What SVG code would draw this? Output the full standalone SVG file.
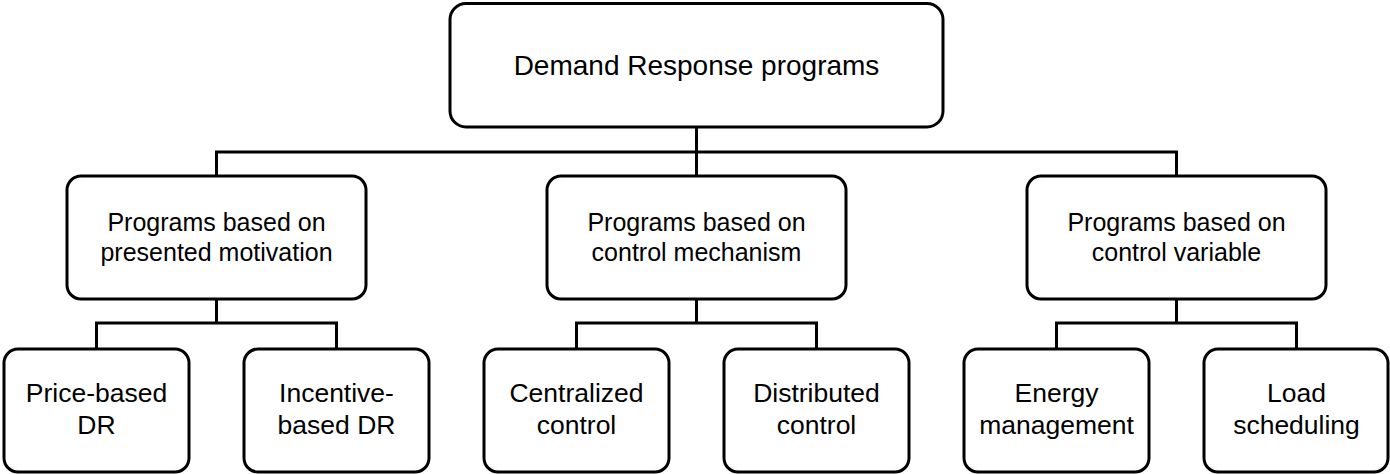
<svg xmlns="http://www.w3.org/2000/svg" width="1390" height="474" viewBox="0 0 1390 474">
<style>
.box{fill:#fff;stroke:#000;stroke-width:3}
.t{font-family:"Liberation Sans",Arial,sans-serif;font-size:25px;fill:#000;text-anchor:middle}
.top{font-size:28px}
.l3{font-size:26.5px}
.conn line,.conn polyline{stroke:#000;stroke-width:3;fill:none}
</style>
<rect width="1390" height="474" fill="#fff"/>
<g class="conn" id="connectors">
<line x1="696.5" y1="127" x2="696.5" y2="152"/>
<polyline points="216.5,176 216.5,152 1176.5,152 1176.5,176"/>
<line x1="696.5" y1="152" x2="696.5" y2="176"/>
<line x1="216.5" y1="299" x2="216.5" y2="323"/>
<polyline points="96.5,349 96.5,323 336.5,323 336.5,349"/>
<line x1="696.5" y1="299" x2="696.5" y2="323"/>
<polyline points="576.5,349 576.5,323 816.5,323 816.5,349"/>
<line x1="1176.5" y1="299" x2="1176.5" y2="323"/>
<polyline points="1056.5,349 1056.5,323 1296.5,323 1296.5,349"/>
</g>
<g id="root"><rect class="box" x="450" y="3.5" width="493" height="123.5" rx="16"/><text class="t top" x="696.5" y="75">Demand Response programs</text></g>
<g id="motivation"><rect class="box" x="67" y="176" width="299" height="123" rx="14"/><text class="t" x="216.5" y="231">Programs based on</text><text class="t" x="216.5" y="261">presented motivation</text></g>
<g id="mechanism"><rect class="box" x="547" y="176" width="299" height="123" rx="14"/><text class="t" x="696.5" y="231">Programs based on</text><text class="t" x="696.5" y="261">control mechanism</text></g>
<g id="variable"><rect class="box" x="1027" y="176" width="299" height="123" rx="14"/><text class="t" x="1176.5" y="231">Programs based on</text><text class="t" x="1176.5" y="261">control variable</text></g>
<g id="price"><rect class="box" x="4" y="349" width="185" height="123" rx="14"/><text class="t l3" x="96.5" y="402">Price-based</text><text class="t l3" x="96.5" y="434">DR</text></g>
<g id="incentive"><rect class="box" x="244" y="349" width="185" height="123" rx="14"/><text class="t l3" x="336.5" y="402">Incentive-</text><text class="t l3" x="336.5" y="434">based DR</text></g>
<g id="centralized"><rect class="box" x="484" y="349" width="185" height="123" rx="14"/><text class="t l3" x="576.5" y="402">Centralized</text><text class="t l3" x="576.5" y="434">control</text></g>
<g id="distributed"><rect class="box" x="724" y="349" width="185" height="123" rx="14"/><text class="t l3" x="816.5" y="402">Distributed</text><text class="t l3" x="816.5" y="434">control</text></g>
<g id="energy"><rect class="box" x="964" y="349" width="185" height="123" rx="14"/><text class="t l3" x="1056.5" y="402">Energy</text><text class="t l3" x="1056.5" y="434">management</text></g>
<g id="load"><rect class="box" x="1204" y="349" width="184" height="123" rx="14"/><text class="t l3" x="1296.5" y="402">Load</text><text class="t l3" x="1296.5" y="434">scheduling</text></g>
</svg>
